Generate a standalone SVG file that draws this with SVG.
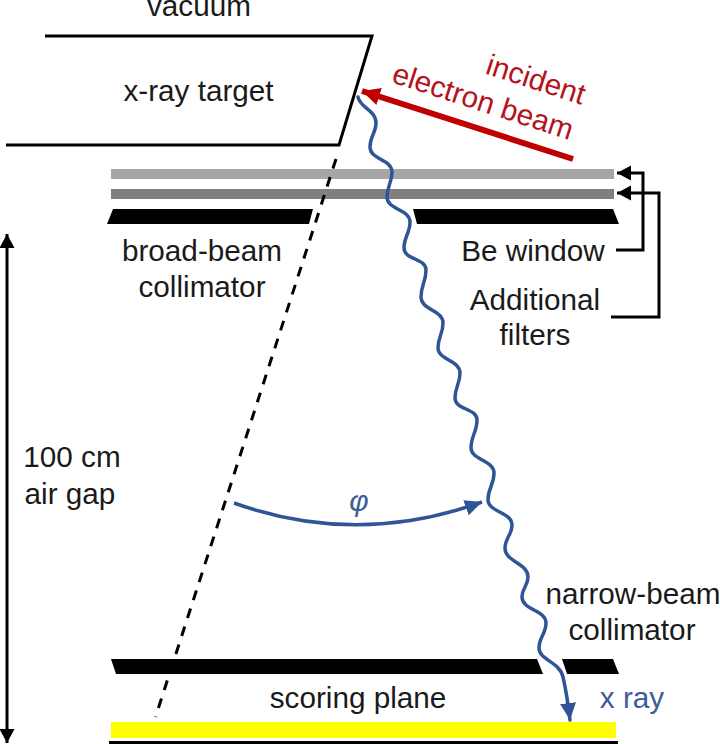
<svg xmlns="http://www.w3.org/2000/svg" width="720" height="744" viewBox="0 0 720 744">
<style>
text{font-family:"Liberation Sans",Arial,sans-serif;font-size:29.7px;fill:#1a1a1a;text-anchor:middle}
.red{fill:#b5121b}
.blue{fill:#3d5c99}
.bar{fill:#000}
.ln{fill:none;stroke:#000;stroke-width:3;stroke-linejoin:miter}
.wave{fill:none;stroke:#2f5597;stroke-width:3.5;stroke-linecap:round}
</style>
<defs>
<marker id="ak" markerUnits="userSpaceOnUse" markerWidth="16" markerHeight="16" refX="14" refY="8" orient="auto-start-reverse"><path d="M0,0.5L14,8L0,15.5z" fill="#000"/></marker>
<marker id="ab" markerUnits="userSpaceOnUse" markerWidth="18" markerHeight="18" refX="17" refY="9" orient="auto"><path d="M0,1L17,9L0,17z" fill="#2f5597"/></marker>
<marker id="ar" markerUnits="userSpaceOnUse" markerWidth="22" markerHeight="22" refX="18" refY="10" orient="auto"><path d="M0,1L18,10L0,19z" fill="#c00000"/></marker>
</defs>
<text x="199" y="16">vacuum</text>
<g id="target">
<path class="ln" d="M45,36H372L339,145H6"/>
<text x="198.500" y="101">x-ray target</text>
</g>
<g id="filters">
<rect x="111" y="169" width="503" height="10" fill="#a6a6a6"/>
<rect x="111" y="189" width="503" height="10" fill="#808080"/>
</g>
<g id="connectors">
<path d="M336,159L155.500,717" fill="none" stroke="#000" stroke-width="3" stroke-dasharray="10 8.9"/>
<path class="wave" marker-end="url(#ab)" d="M358,97C360,108 376,110 376,123C376,133 370,136 370,147C370,160 392,159 392,172C392,183 387,186 387,197C387,210 410,209 410,222C410,233 404,237 404,248C404,260 426,258 426,270C426,282 421,285 421,297C421,310 443,310 443,323C443,334 438,337 438,348C438,360 460,360 460,373C460,384 455,387 455,398C455,410 477,408 477,420C477,432 471,436 471,448C471,460 494,460 494,473C494,485 488,488 488,500C488,512 512,512 512,525C512,535 505,538 505,548C505,562 528,563 528,577C528,586 522,588 522,597C522,610 546,610 546,623C546,634 539,637 539,648C539,660 560,662 563,677C566,690 568,703 570,720"/>
<path d="M234,503Q357,547 482,502" fill="none" stroke="#2f5597" stroke-width="3.5" marker-end="url(#ab)"/>
<path d="M573,159L362,91" fill="none" stroke="#c00000" stroke-width="6" marker-end="url(#ar)"/>
<path class="ln" marker-end="url(#ak)" d="M616,250H643V173H617"/>
<path class="ln" marker-end="url(#ak)" d="M611,317H659V193H617"/>
<path class="ln" marker-start="url(#ak)" marker-end="url(#ak)" d="M7,234V743"/>
</g>
<g id="broad-beam-collimator">
<path class="bar" d="M113,209H313L309,224H107z"/>
<path class="bar" d="M413,209H613L619,224H417z"/>
<text x="202" y="261">broad-beam</text>
<text x="202" y="297">collimator</text>
</g>
<g id="be-window"><text x="533" y="261">Be window</text></g>
<g id="additional-filters">
<text x="535" y="310">Additional</text>
<text x="535" y="345">filters</text>
</g>
<g id="electron-beam">
<text class="red" transform="translate(533,89) rotate(18)">incident</text>
<text class="red" transform="translate(480,111) rotate(18)">electron beam</text>
</g>
<g id="air-gap">
<text x="72" y="467">100 cm</text>
<text x="70" y="504">air gap</text>
</g>
<g id="phi"><text class="blue" x="359" y="511" style="font-style:italic">φ</text></g>
<g id="narrow-beam-collimator">
<path class="bar" d="M111,659H537L543,674H116z"/>
<path class="bar" d="M562,659H613L619,674H567z"/>
<text x="633" y="604">narrow-beam</text>
<text x="632" y="640">collimator</text>
</g>
<g id="x-ray"><text class="blue" x="632" y="708">x ray</text></g>
<g id="scoring-plane">
<text x="358" y="708">scoring plane</text>
<rect x="111" y="722" width="505" height="16" fill="#ffff00"/>
<rect x="109" y="741" width="509" height="3" fill="#000"/>
</g>
</svg>
